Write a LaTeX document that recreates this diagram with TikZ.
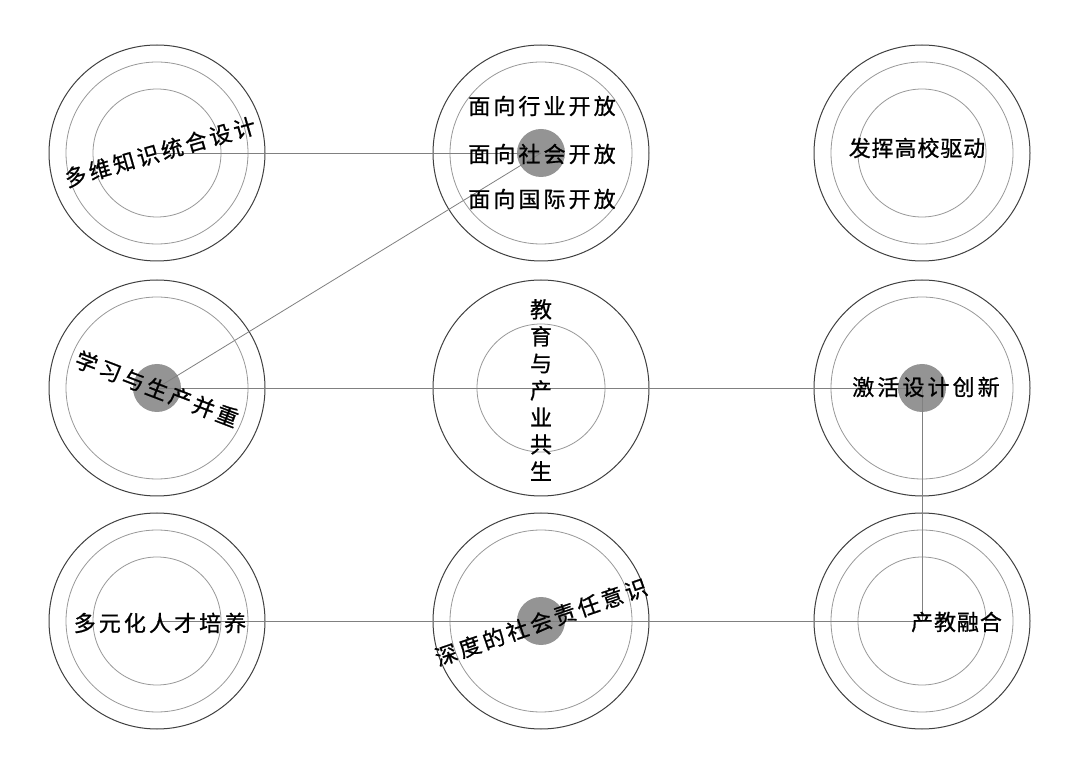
\documentclass[tikz,border=0pt]{standalone}
\usepackage{fontspec}
\newfontfamily\cjk[LetterSpace=4,FakeBold=0.8]{Noto Sans CJK SC}
\newfontfamily\cjkwide[LetterSpace=14,FakeBold=0.8]{Noto Sans CJK SC}
\begin{document}
\begin{tikzpicture}[x=1pt,y=-1pt,
    ring/.style={draw=black!75, line width=1pt},
    subring/.style={draw=black!40, line width=0.8pt},
    hub/.style={fill=black!42},
    link/.style={draw=black!50, line width=0.8pt},
    tag/.style={font=\cjk\fontsize{22}{22}\selectfont, inner sep=0pt},
    widetag/.style={font=\cjkwide\fontsize{22}{22}\selectfont, inner sep=0pt}]
    \useasboundingbox[fill=white] (0,0) rectangle (1080,775);
    % Centres
    \foreach \n/\x/\y in {tl/157/153, tm/541/153, tr/922/153, ml/157/388, mm/541/388,
        mr/922/388, bl/157/621, bm/541/621, br/922/621}
        \coordinate (\n) at (\x,\y);
    % Outer rings
    \foreach \n in {tl,tm,tr,ml,mm,mr,bl,bm,br}
        \draw[ring] (\n) circle (108);
    % Middle rings
    \foreach \n in {tl,tm,tr,ml,mr,bl,bm,br}
        \draw[subring] (\n) circle (91);
    % Inner rings
    \foreach \n in {tl,tr,mm,bl,br}
        \draw[subring] (\n) circle (64);
    % Hubs
    \foreach \n in {tm,ml,mr,bm}
        \fill[hub] (\n) circle (24);
    % Links
    \draw[link] (tl) -- (tm);
    \draw[link] (ml) -- (tm);
    \draw[link] (ml) -- (mr);
    \draw[link] (mr) -- (br);
    \draw[link] (bl) -- (br);
    % Labels
    \node[widetag, rotate=16] (tltext) at (160,152) {多维知识统合设计};
    \foreach \n/\y/\t in {tma/106/面向行业开放, tmb/154/面向社会开放, tmc/199/面向国际开放}
        \node[widetag] (\n) at (542,\y) {\t};
    \node[tag] (trtext) at (917,148) {发挥高校驱动};
    \node[widetag, rotate=-21] (mltext) at (157,389) {学习与生产并重};
    \node[tag, align=center, font=\cjk\fontsize{22}{27}\selectfont] (mmtext) at (541,390)
        {教\\育\\与\\产\\业\\共\\生};
    \node[widetag] (mrtext) at (926,387) {激活设计创新};
    \node[widetag] (bltext) at (160,623) {多元化人才培养};
    \node[widetag, rotate=19] (bmtext) at (541,622) {深度的社会责任意识};
    \node[tag, anchor=west] (brtext) at (911,622) {产教融合};
\end{tikzpicture}
\end{document}
